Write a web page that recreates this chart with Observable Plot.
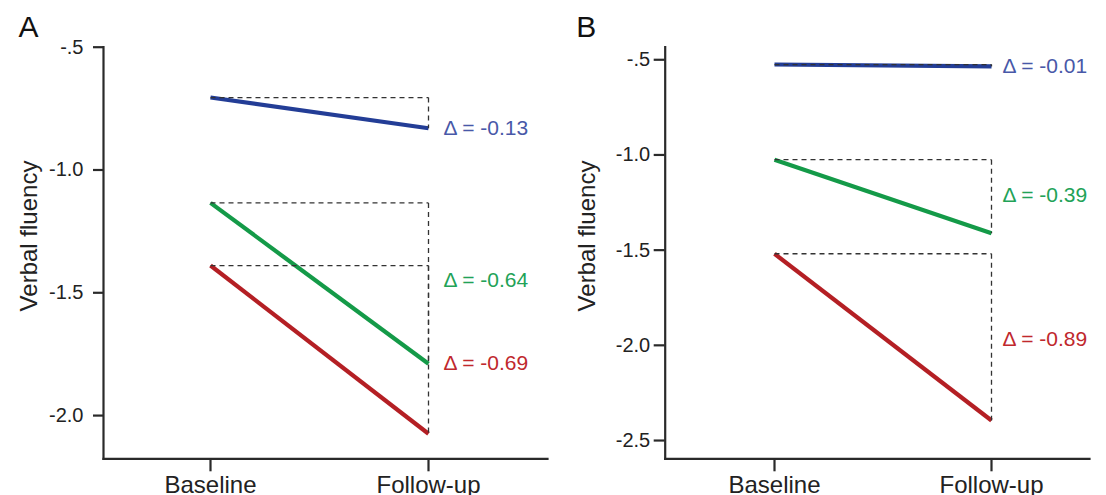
<!DOCTYPE html>
<html>
<head>
<meta charset="utf-8">
<script src="https://cdn.jsdelivr.net/npm/d3@7"></script>
<script src="https://cdn.jsdelivr.net/npm/@observablehq/plot@0.6"></script>
<style>
  html, body { margin: 0; padding: 0; background: #fff; }
  #wrap { display: flex; width: 1106px; height: 495px; overflow: hidden; }
</style>
</head>
<body>
<div id="wrap"></div>
<script>
// ---- data ----
const periods = ["Baseline", "Follow-up"];
const groups = ["Group 1", "Group 2", "Group 3"];
const lineColors = ["#233d96", "#149a48", "#b41f24"];
const textColors = ["#4858a8", "#22a257", "#c0282d"];

// Panel A
const baselineA = [-0.705, -1.134, -1.389];
const followupA = [-0.830, -1.789, -2.074];
const deltaLabelsA = ["Δ = -0.13", "Δ = -0.64", "Δ = -0.69"];
const deltaLabelYA = [-0.830, -1.45, -1.789];
const yTicksA = [-0.5, -1.0, -1.5, -2.0];
const yTickLabelsA = ["-.5", "-1.0", "-1.5", "-2.0"];
const yDomainA = [-2.176, -0.5];

// Panel B
const baselineB = [-0.525, -1.025, -1.519];
const followupB = [-0.535, -1.411, -2.395];
const deltaLabelsB = ["Δ = -0.01", "Δ = -0.39", "Δ = -0.89"];
const deltaLabelYB = [-0.533, -1.213, -1.966];
const yTicksB = [-0.5, -1.0, -1.5, -2.0, -2.5];
const yTickLabelsB = ["-.5", "-1.0", "-1.5", "-2.0", "-2.5"];
const yDomainB = [-2.596, -0.434];

const yTitle = "Verbal fluency";

const AXIS = "#2a2a2a";
const hasAxisMarks = typeof Plot.axisX === "function";

function panel(cfg) {
  const rows = groups.map((g, i) => ({
    g, base: cfg.base[i], follow: cfg.follow[i],
    label: cfg.labels[i], ly: cfg.labelY[i],
    lc: lineColors[i], tc: textColors[i]
  }));
  const dash = {stroke: "#333", strokeWidth: 1.3, strokeDasharray: "5,4"};
  const fmt = v => cfg.tickLabels[cfg.ticks.indexOf(v)];
  const axisMarks = hasAxisMarks ? [
    Plot.frame({anchor: "left", stroke: AXIS, strokeWidth: 2.2}),
    Plot.frame({anchor: "bottom", stroke: AXIS, strokeWidth: 2.2}),
    Plot.axisY({ticks: cfg.ticks, tickFormat: fmt, tickSize: cfg.tickSize, tickPadding: cfg.tickPadding,
                stroke: AXIS, strokeWidth: 2.2, fill: "#222", fontSize: 20, label: null}),
    Plot.axisX({tickSize: 13, tickPadding: 4, stroke: AXIS, strokeWidth: 2.2, fill: "#222",
                fontSize: 24, label: null})
  ] : [];
  return Plot.plot({
    width: 553,
    height: 495,
    marginLeft: cfg.marginLeft,
    marginRight: cfg.marginRight,
    marginTop: 46.7,
    marginBottom: 36.7,
    style: {fontFamily: "'Liberation Sans', Arial, sans-serif", fontSize: "20px", color: "#2e2e2e", background: "#fff", overflow: "visible"},
    color: {type: "identity"},
    x: {type: "point", domain: periods, padding: cfg.padding, align: cfg.align,
        tickSize: 13, tickPadding: 4, line: !hasAxisMarks, label: null},
    y: {domain: cfg.domain, ticks: cfg.ticks, tickFormat: fmt,
        tickSize: cfg.tickSize, tickPadding: cfg.tickPadding, line: !hasAxisMarks, label: null},
    marks: [
      ...axisMarks,
      Plot.link(rows, {x1: () => periods[0], x2: () => periods[1], y1: "base", y2: "follow",
                       stroke: "lc", strokeWidth: 4.2}),
      Plot.link(rows, {x1: () => periods[0], x2: () => periods[1], y1: "base", y2: "base", ...dash}),
      Plot.link(rows, {x1: () => periods[1], x2: () => periods[1], y1: "base", y2: "follow", ...dash}),
      Plot.text(rows, {x: () => periods[1], y: "ly", text: "label", fill: "tc",
                       textAnchor: "start", dx: cfg.labelDx, fontSize: 21}),
      Plot.text([cfg.letter], {frameAnchor: "top-left", text: d => d, fontSize: 30,
                       textAnchor: "start", lineAnchor: "top", dx: cfg.letterDx, dy: -32, fill: "#111"}),
      Plot.text([yTitle], {frameAnchor: "left", text: d => d, rotate: -90, fontSize: 24,
                       textAnchor: "middle", dx: cfg.titleDx, dy: -17, fill: "#222"})
    ]
  });
}

const wrap = document.getElementById("wrap");
wrap.appendChild(panel({
  letter: "A", base: baselineA, follow: followupA, labels: deltaLabelsA, labelY: deltaLabelYA,
  ticks: yTicksA, tickLabels: yTickLabelsA, domain: yDomainA,
  marginLeft: 103, marginRight: 6, padding: 0.517, align: 0.474,
  tickSize: 10, tickPadding: 10, labelDx: 15, letterDx: -85, titleDx: -74
}));
wrap.appendChild(panel({
  letter: "B", base: baselineB, follow: followupB, labels: deltaLabelsB, labelY: deltaLabelYB,
  ticks: yTicksB, tickLabels: yTickLabelsB, domain: yDomainB,
  marginLeft: 111.7, marginRight: 17, padding: 0.475, align: 0.527,
  tickSize: 11, tickPadding: 4, labelDx: 11, letterDx: -89, titleDx: -78
}));
</script>
</body>
</html>
